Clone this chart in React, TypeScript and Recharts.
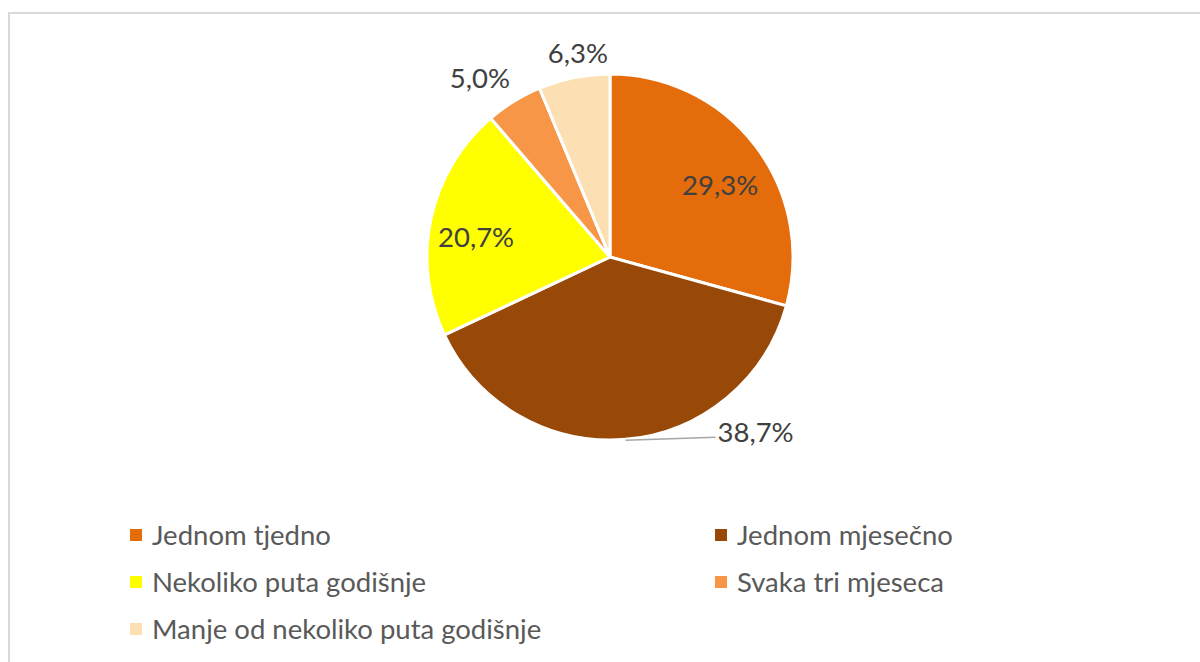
import React from 'react';
import { PieChart, Pie, Cell, Legend } from 'recharts';

const categories = [
  'Jednom tjedno',
  'Jednom mjesečno',
  'Nekoliko puta godišnje',
  'Svaka tri mjeseca',
  'Manje od nekoliko puta godišnje',
];
const shares = [29.3, 38.7, 20.7, 5.0, 6.3];
const colors = ['#E46C0A', '#984807', '#FFFF00', '#F79646', '#FDDFB4'];

const data = categories.map((name, i) => ({ name, value: shares[i] }));

// label placement per slice: radius factor and small angle nudge
const labelRadius = [0.72, 1, 0.74, 1.21, 1.13];
const labelNudge = [-4, 0, 3.5, 4.3, -2.4];

const RAD = Math.PI / 180;
const FONT = 'Lato, "Open Sans", sans-serif';

const fmt = (v: number) => v.toFixed(1).replace('.', ',') + '%';

const renderLabel = (props: any) => {
  const { cx, cy, midAngle, outerRadius, index, value } = props;
  if (index === 1) {
    const ex = cx + outerRadius * Math.cos(-midAngle * RAD);
    const ey = cy + outerRadius * Math.sin(-midAngle * RAD);
    return (
      <g>
        <path d={`M${ex},${ey + 1}L${ex + 90},${ey - 2}`} stroke="#A6A6A6" strokeWidth={1.5} fill="none" />
        <text x={ex + 92} y={ey - 8} fill="#404040" fontSize={27.5} fontFamily={FONT} textAnchor="start" dominantBaseline="central">
          {fmt(value)}
        </text>
      </g>
    );
  }
  const a = (midAngle + labelNudge[index]) * RAD;
  const r = outerRadius * labelRadius[index];
  const x = cx + r * Math.cos(-a);
  const y = cy + r * Math.sin(-a);
  return (
    <text x={x} y={y} fill="#404040" fontSize={27.5} fontFamily={FONT} textAnchor="middle" dominantBaseline="central">
      {fmt(value)}
    </text>
  );
};

const renderLegend = () => (
  <div style={{ display: 'grid', gridTemplateColumns: '585px 400px', rowGap: 14, paddingLeft: 130 }}>
    {categories.map((name, i) => (
      <div key={name} style={{ display: 'flex', alignItems: 'center', height: 33 }}>
        <span style={{ width: 12, height: 12, background: colors[i], display: 'inline-block', marginRight: 10 }} />
        <span style={{ fontFamily: FONT, fontSize: 27.5, color: '#595959', whiteSpace: 'nowrap' }}>{name}</span>
      </div>
    ))}
  </div>
);

export default function App() {
  return (
    <div style={{ position: 'absolute', left: 0, top: 0, width: 1200, height: 662, overflow: 'hidden', background: '#fff' }}>
      <div
        style={{
          position: 'absolute',
          left: 8,
          top: 12,
          width: 1220,
          height: 680,
          border: '2px solid #D9D9D9',
          boxSizing: 'border-box',
        }}
      />
      <div style={{ position: 'absolute', left: 0, top: 0 }}>
        <PieChart width={1200} height={662} margin={{ top: 0, right: 0, bottom: 0, left: 0 }}>
          <Pie
            data={data}
            dataKey="value"
            nameKey="name"
            cx={610}
            cy={257}
            outerRadius={183}
            startAngle={90}
            endAngle={-270}
            stroke="#FFFFFF"
            strokeWidth={3}
            label={renderLabel}
            labelLine={false}
            isAnimationActive={false}
          >
            {data.map((d, i) => (
              <Cell key={d.name} fill={colors[i]} />
            ))}
          </Pie>
          <Legend content={renderLegend} wrapperStyle={{ left: 0, top: 518, width: 1200 }} />
        </PieChart>
      </div>
    </div>
  );
}
